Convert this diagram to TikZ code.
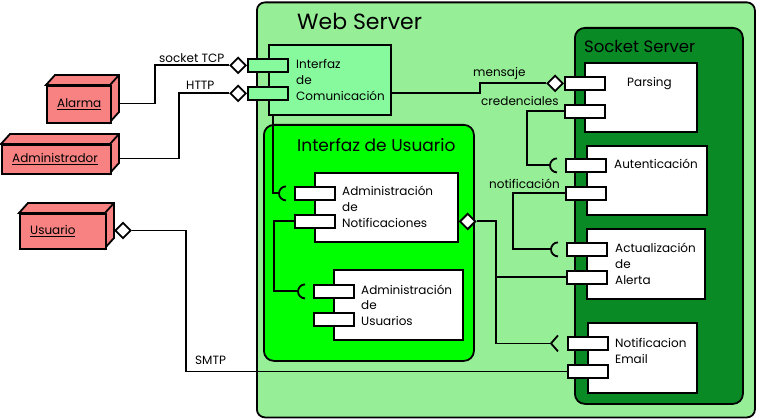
\documentclass[tikz,border=0pt]{standalone}
\usepackage{fontspec}
\setmainfont{Poppins}
\usetikzlibrary{shapes.geometric}

\definecolor{webgreen}{HTML}{96EE96}
\definecolor{sockgreen}{HTML}{0A8A25}
\definecolor{uigreen}{HTML}{00FF00}
\definecolor{commint}{HTML}{88FA9E}
\definecolor{devred}{HTML}{F88282}

\tikzset{
	box/.style={draw=black, line width=1.8pt, inner sep=0pt, anchor=north west},
	comp/.style={box, fill=white},
	port/.style={box, minimum width=40pt, minimum height=13pt},
	wire/.style={draw=black, line width=1.8pt},
	lollipop/.style={diamond, draw=black, fill=white, line width=1.8pt, inner sep=0pt, minimum width=16pt, minimum height=16pt},
	txt/.style={anchor=base west, inner sep=0pt, align=left, font=\fontsize{12}{16}\selectfont},
	tag/.style={anchor=base west, inner sep=0pt, font=\fontsize{12}{14}\selectfont},
	title/.style={anchor=base west, inner sep=0pt},
	pics/device/.style n args={3}{
		code = {
			\draw[wire, fill=devred] (0,0) -- (9,-10) -- (#1+9,-10) -- (#1+9,#2-10) -- (#1,#2) -- (#1,0) -- cycle;
			\draw[wire] (#1,0) -- (#1+9,-10);
			\node[box, fill=devred, minimum width=#1pt, minimum height=#2pt] (-front) at (0,0) {};
			\node[txt] (-label) at (11,#2/2+4) {\underline{#3}};
			\coordinate (-out) at (#1+9,#2/2);
		}
	},
	pics/ports/.style={
		code = {
			\node[port, fill=#1] (-p1) at (0,0) {};
			\node[port, fill=#1] (-p2) at (0,28) {};
		}
	},
	pics/ports/.default=white,
	pics/receptor/.style={
		code = {
			\draw[wire] (-8,7) arc[start angle=90, end angle=270, radius=7];
			\coordinate (-tip) at (-15,0);
		}
	},
	pics/fork/.style={
		code = {
			\draw[wire] (-9,-8) -- (-16,0) -- (-9,8);
			\coordinate (-tip) at (-16,0);
		}
	}
}

\begin{document}
\begin{tikzpicture}[x=1pt, y=-1pt]

	\useasboundingbox (0,0) rectangle (757,419);

	% containers
	\node[box, fill=webgreen, rounded corners=8pt, minimum width=498pt, minimum height=415pt] (web) at (256,1.5) {};
	\node[title, font=\fontsize{22}{24}\selectfont] (web-title) at (297,30) {Web Server};

	\node[box, fill=uigreen, rounded corners=10pt, minimum width=210pt, minimum height=236pt] (ui) at (263,124) {};
	\node[title, font=\fontsize{17}{20}\selectfont] (ui-title) at (297,152) {Interfaz de Usuario};

	\node[box, fill=sockgreen, rounded corners=10pt, minimum width=168pt, minimum height=376pt] (sock) at (574,27) {};
	\node[title, font=\fontsize{16.5}{20}\selectfont] (sock-title) at (584,53) {Socket Server};

	% components (text anchored on the baseline of its last line)
	\node[box, fill=commint, minimum width=122pt, minimum height=70pt] (com) at (268,44) {};
	\pic (com) at (247,58) {ports=commint};
	\node[txt] (com-txt) at (296,101) {Interfaz\\de\\Comunicación};

	\node[comp, minimum width=143pt, minimum height=69pt] (notif) at (314,172) {};
	\pic (notif) at (294,186) {ports};
	\node[txt] (notif-txt) at (342,228) {Administración\\de\\Notificaciones};

	\node[comp, minimum width=129pt, minimum height=70pt] (usr) at (333,269) {};
	\pic (usr) at (313,284) {ports};
	\node[txt] (usr-txt) at (361,326) {Administración\\de\\Usuarios};

	\node[comp, minimum width=112pt, minimum height=69pt] (parsing) at (584,62) {};
	\pic (parsing) at (564,76) {ports};
	\node[txt] (parsing-txt) at (627,87) {Parsing};

	\node[comp, minimum width=120pt, minimum height=69pt] (aut) at (586,145) {};
	\pic (aut) at (565,158) {ports};
	\node[txt] (aut-txt) at (614,169) {Autenticación};

	\node[comp, minimum width=118pt, minimum height=70pt] (act) at (586,228) {};
	\pic (act) at (566,242) {ports};
	\node[txt] (act-txt) at (615,285) {Actualización\\de\\Alerta};

	\node[comp, minimum width=109pt, minimum height=70pt] (email) at (587,322) {};
	\pic (email) at (567,336) {ports};
	\node[txt] (email-txt) at (615,363) {Notificacion\\Email};

	% devices
	\pic (alarma) at (46,85) {device={64}{37}{Alarma}};
	\pic (admin) at (1,144) {device={109}{29}{Administrador}};
	\pic (usuario) at (19,213) {device={86}{35}{Usuario}};

	% provided / required interfaces
	\node[lollipop, anchor=east] (d-tcp) at (com-p1.west) {};
	\node[lollipop, anchor=east] (d-http) at (com-p2.west) {};
	\node[lollipop, anchor=east] (d-msg) at (parsing-p1.west) {};
	\node[lollipop, anchor=west] (d-smtp) at (usuario-out) {};
	\node[lollipop, anchor=west] (d-notif) at (notif.east |- notif-p2.west) {};

	\pic (r-cred) at (aut-p1.west) {receptor};
	\pic (r-alert) at (act-p1.west) {receptor};
	\pic (r-ui) at (notif-p1.west) {receptor};
	\pic (r-usr) at (usr-p1.west) {receptor};
	\pic (r-email) at (email-p1.west) {fork};

	\coordinate (j-notif) at ([xshift=19pt]d-notif.east);

	% wires
	\draw[wire] (alarma-out) -- ++(36,0) |- (d-tcp.west);
	\draw[wire] (admin-out) -- ++(60,0) |- (d-http.west);
	\draw[wire] (d-smtp.east) -- ++(54,0) |- (email-p2.west);
	\draw[wire] (com.east |- com-p2.west) -- ++(88,0) |- (d-msg.west);
	\draw[wire] (parsing-p2.west) -- ++(-37,0) |- (r-cred-tip);
	\draw[wire] (aut-p2.west) -- ++(-52,0) |- (r-alert-tip);
	\draw[wire] ([xshift=5pt]com.south west) |- (r-ui-tip);
	\draw[wire] (notif-p2.west) -- ++(-20,0) |- (r-usr-tip);
	\draw[wire] (d-notif.east) -- (j-notif) |- (r-email-tip);
	\draw[wire] (j-notif |- act-p2.west) -- (act-p2.west);

	% wire labels
	\node[tag] (t-tcp) at (159,63) {socket TCP};
	\node[tag] (t-http) at (186,90) {HTTP};
	\node[tag] (t-msg) at (473,77) {mensaje};
	\node[tag] (t-cred) at (481,106) {credenciales};
	\node[tag] (t-notif) at (489,189) {notificación};
	\node[tag] (t-smtp) at (195,364) {SMTP};

\end{tikzpicture}
\end{document}
